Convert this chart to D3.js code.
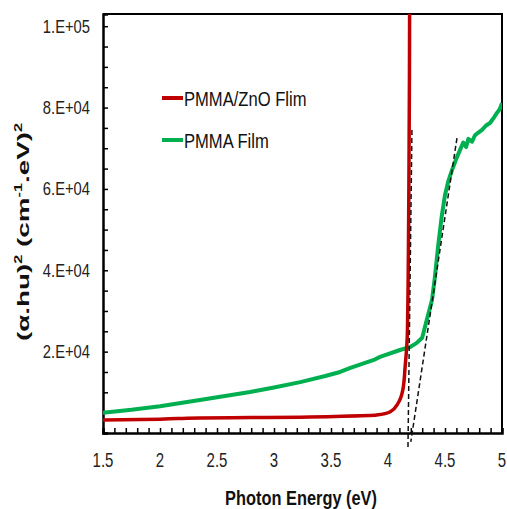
<!DOCTYPE html>
<html>
<head>
<meta charset="utf-8">
<script src="https://cdn.jsdelivr.net/npm/d3@7"></script>
<style>
  html, body { margin: 0; padding: 0; background: #fff; }
  svg { display: block; font-family: "Liberation Sans", Arial, sans-serif; }
</style>
</head>
<body>
<div id="chart"></div>
<script>
// Tauc plot - (αhν)² vs photon energy

// PMMA/ZnO film (red)
const znoEnergy = [1.5, 2.0, 2.35, 2.8, 3.23, 3.6, 3.9, 4.02, 4.09, 4.13, 4.15, 4.17, 4.183, 4.19];
const znoValue  = [3200, 3400, 3700, 3800, 3900, 4100, 4400, 5200, 7400, 10600, 16200, 24600, 60000, 110000];

// PMMA film (green)
const pmmaEnergy = [1.5, 1.75, 2.0, 2.35, 2.79, 3.0, 3.23, 3.45, 3.58, 3.67, 3.87, 3.93, 4.105, 4.19, 4.25, 4.3,
                    4.34, 4.386, 4.41, 4.44, 4.47, 4.5, 4.53, 4.56, 4.6, 4.632, 4.66, 4.685, 4.705, 4.737, 4.763, 4.79, 4.825,
                    4.86, 4.895, 4.93, 4.956, 4.98, 5.0];
const pmmaValue  = [5000, 5700, 6600, 8100, 10100, 11200, 12500, 14000, 15000, 16000, 17900, 18700, 20400, 21100, 22100, 23400,
                    27800, 32700, 38000, 46000, 53000, 58500, 62000, 64500, 67500, 69600, 71400, 70300, 72300, 71600, 73200, 73800, 74500,
                    75600, 76200, 77600, 78700, 79600, 81100];

// tangent (dashed) lines: [energy, value]
const tangentLines = [
  [[4.21, 74500], [4.175, -4000]],
  [[4.605, 72500], [4.20, -2200]]
];

const xTicks = [1.5, 2, 2.5, 3, 3.5, 4, 4.5, 5];
const yTicks = [20000, 40000, 60000, 80000, 100000];
const yTickLabels = ["2.E+04", "4.E+04", "6.E+04", "8.E+04", "1.E+05"];

const seriesNames = ["PMMA/ZnO Flim", "PMMA Film"];
const seriesColors = ["#C00000", "#00B050"];

const width = 507, height = 509;
const margin = { top: 14, right: 5, bottom: 76, left: 103 };
const plotW = width - margin.left - margin.right;
const plotH = height - margin.top - margin.bottom;

const svg = d3.select("#chart").append("svg")
  .attr("width", width).attr("height", height);

const x = d3.scaleLinear().domain([1.5, 5]).range([margin.left, margin.left + plotW]);
const y = d3.scaleLinear().domain([0, 103000]).range([margin.top + plotH, margin.top]);

svg.append("defs").append("clipPath").attr("id", "clip")
  .append("rect").attr("x", margin.left).attr("y", margin.top).attr("width", plotW).attr("height", plotH + 30);

// --- frame (top/right) ---
svg.append("path")
  .attr("d", `M${x(1.5)},${y(103000)}H${x(5)}V${y(0)}`)
  .attr("fill", "none").attr("stroke", "#000").attr("stroke-width", 2);

// --- axes, ticks inside ---
const xAxis = d3.axisBottom(x)
  .tickValues(d3.range(15, 51).map(d => d / 10))
  .tickSize(-5).tickFormat("");
svg.append("g").attr("transform", `translate(0,${y(0)})`).call(xAxis)
  .call(g => g.select(".domain").attr("stroke-width", 2.5))
  .call(g => g.selectAll(".tick line").attr("stroke-width", 1.5));

const yAxis = d3.axisLeft(y)
  .tickValues(d3.range(0, 103000, 5000))
  .tickSize(-5).tickFormat("");
svg.append("g").attr("transform", `translate(${x(1.5)},0)`).call(yAxis)
  .call(g => g.select(".domain").attr("stroke-width", 2.5))
  .call(g => g.selectAll(".tick line").attr("stroke-width", 1.5));

// tick labels (narrow-looking text)
svg.append("g").selectAll("text").data(xTicks).join("text")
  .attr("transform", d => `translate(${x(d)},467) scale(0.75,1)`)
  .attr("text-anchor", "middle").attr("font-size", 20).attr("fill", "#222")
  .text(d => d);

svg.append("g").selectAll("text").data(yTicks).join("text")
  .attr("transform", d => `translate(90,${y(d) + 6.5}) scale(0.82,1)`)
  .attr("text-anchor", "end").attr("font-size", 18).attr("fill", "#222")
  .text((d, i) => yTickLabels[i]);

// --- curves ---
const line = d3.line().x(d => x(d[0])).y(d => y(d[1]));
const plot = svg.append("g").attr("clip-path", "url(#clip)");

const pmmaData = pmmaEnergy.map((e, i) => [e, pmmaValue[i]]);
const znoData = znoEnergy.map((e, i) => [e, znoValue[i]]);

plot.append("path").datum(pmmaData).attr("d", line)
  .attr("fill", "none").attr("stroke", seriesColors[1]).attr("stroke-width", 4)
  .attr("stroke-linejoin", "round");

plot.append("path").datum(znoData).attr("d", line.curve(d3.curveMonotoneY))
  .attr("fill", "none").attr("stroke", seriesColors[0]).attr("stroke-width", 3.5)
  .attr("stroke-linejoin", "round");

svg.append("g").selectAll("path").data(tangentLines).join("path")
  .attr("d", d3.line().x(d => x(d[0])).y(d => y(d[1])))
  .attr("fill", "none").attr("stroke", "#111").attr("stroke-width", 1.5)
  .attr("stroke-dasharray", "5,3");

// --- legend ---
const legend = svg.append("g").selectAll("g").data(seriesNames).join("g")
  .attr("transform", (d, i) => `translate(162,${98 + i * 42})`);
legend.append("line").attr("x1", 0).attr("x2", 21)
  .attr("stroke", (d, i) => seriesColors[i]).attr("stroke-width", 4);
legend.append("text")
  .attr("transform", "translate(22,7.5) scale(0.79,1)")
  .attr("font-size", 21).attr("fill", "#111")
  .text(d => d);

// --- axis titles ---
svg.append("text")
  .attr("transform", "translate(301,505) scale(0.78,1)")
  .attr("text-anchor", "middle").attr("font-size", 21).attr("font-weight", "bold").attr("fill", "#111")
  .text("Photon Energy (eV)");

const yTitle = svg.append("text")
  .attr("transform", "translate(29,232) scale(0.72,1.16) rotate(-90)")
  .attr("text-anchor", "middle").attr("font-size", 24).attr("font-weight", "bold").attr("fill", "#111");
yTitle.append("tspan").text("(α.hu)");
yTitle.append("tspan").attr("font-size", 14).attr("dy", -10).text("2");
yTitle.append("tspan").attr("dy", 10).text(" (cm");
yTitle.append("tspan").attr("font-size", 14).attr("dy", -10).text("-1");
yTitle.append("tspan").attr("dy", 10).text(".eV)");
yTitle.append("tspan").attr("font-size", 14).attr("dy", -10).text("2");
</script>
</body>
</html>
